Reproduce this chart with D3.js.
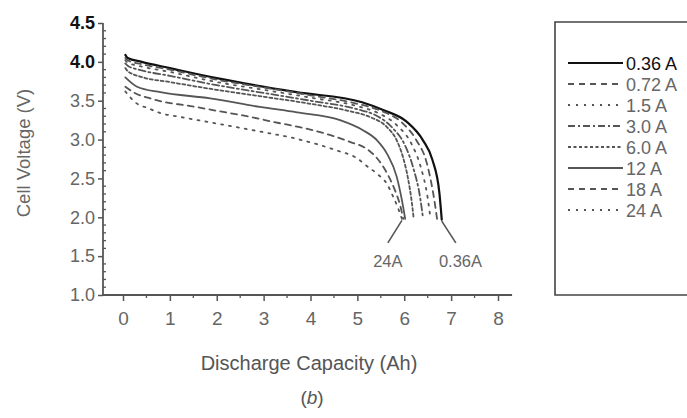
<!DOCTYPE html>
<html>
<head>
<meta charset="utf-8">
<script src="https://cdn.jsdelivr.net/npm/d3@7"></script>
<style>
  body { margin: 0; background: #fff; }
  svg { display: block; font-family: "Liberation Sans", Arial, sans-serif; }
</style>
</head>
<body>
<div id="chart"></div>
<script>
// discharge curves: capacity (Ah) / cell voltage (V)
const cap036 = [0.05, 0.1, 0.4, 1.0, 2.0, 3.7, 5.1, 5.55, 6.05, 6.4, 6.6, 6.75, 6.8];
const v036   = [4.09, 4.05, 4.0, 3.92, 3.79, 3.61, 3.48, 3.38, 3.23, 2.99, 2.74, 2.31, 1.97];

const cap072 = [0.05, 0.1, 0.4, 1.0, 2.0, 3.0, 4.0, 5.0, 5.5, 5.95, 6.25, 6.48, 6.62, 6.7];
const v072   = [4.05, 4.02, 3.97, 3.9, 3.77, 3.67, 3.57, 3.46, 3.37, 3.22, 3.0, 2.7, 2.3, 1.98];

const cap15 = [0.05, 0.1, 0.4, 1.0, 2.0, 3.0, 4.0, 5.0, 5.45, 5.85, 6.15, 6.35, 6.5, 6.56];
const v15   = [4.02, 3.99, 3.94, 3.87, 3.74, 3.64, 3.54, 3.43, 3.34, 3.18, 2.95, 2.65, 2.25, 1.98];

const cap30 = [0.05, 0.1, 0.4, 1.0, 2.0, 3.0, 4.0, 5.0, 5.4, 5.75, 6.02, 6.2, 6.34, 6.4];
const v30   = [3.98, 3.95, 3.89, 3.82, 3.7, 3.6, 3.5, 3.39, 3.31, 3.15, 2.92, 2.62, 2.25, 1.99];

const cap60 = [0.05, 0.1, 0.43, 1.0, 2.0, 2.9, 4.0, 4.8, 5.27, 5.63, 5.84, 5.97, 6.08, 6.17, 6.2];
const v60   = [3.92, 3.88, 3.8, 3.74, 3.64, 3.56, 3.46, 3.37, 3.29, 3.16, 2.99, 2.78, 2.5, 2.15, 1.99];

const cap12 = [0.05, 0.3, 0.8, 1.86, 2.92, 3.71, 4.63, 5.12, 5.42, 5.63, 5.84, 5.95, 6.02];
const v12   = [3.8, 3.68, 3.61, 3.53, 3.42, 3.35, 3.25, 3.12, 2.99, 2.82, 2.52, 2.22, 1.98];

const cap18 = [0.05, 0.25, 0.58, 0.9, 1.36, 2.0, 2.56, 3.35, 3.77, 4.41, 4.84, 5.2, 5.42, 5.63, 5.8, 5.9, 5.98];
const v18   = [3.68, 3.6, 3.53, 3.48, 3.44, 3.37, 3.31, 3.21, 3.16, 3.06, 2.97, 2.88, 2.76, 2.57, 2.35, 2.18, 1.98];

const cap24 = [0.05, 0.26, 0.55, 0.8, 1.14, 1.78, 2.42, 3.13, 3.56, 4.14, 4.56, 4.99, 5.2, 5.42, 5.63, 5.76, 5.86, 5.95];
const v24   = [3.62, 3.48, 3.4, 3.34, 3.3, 3.23, 3.16, 3.08, 3.03, 2.94, 2.86, 2.76, 2.66, 2.56, 2.43, 2.27, 2.13, 1.98];

const seriesNames = ["0.36 A", "0.72 A", "1.5 A", "3.0 A", "6.0 A", "12 A", "18 A", "24 A"];
const seriesCaps = [cap036, cap072, cap15, cap30, cap60, cap12, cap18, cap24];
const seriesVolts = [v036, v072, v15, v30, v60, v12, v18, v24];

const xTicks = [0, 1, 2, 3, 4, 5, 6, 7, 8];
const yTicks = [1.0, 1.5, 2.0, 2.5, 3.0, 3.5, 4.0, 4.5];

// line styling per series (scan has 0.36 A in black, rest gray)
const styles = [
    { color: "#111", width: 2.2, dash: null },
    { color: "#555", width: 1.8, dash: "6,5" },
    { color: "#555", width: 1.8, dash: "2,6" },
    { color: "#555", width: 1.8, dash: "7,3,2,3" },
    { color: "#555", width: 1.8, dash: "3,2.5" },
    { color: "#555", width: 1.8, dash: null },
    { color: "#555", width: 1.8, dash: "6,5" },
    { color: "#555", width: 1.8, dash: "2,6" }
];

const W = 687, H = 418;

const svg = d3.select("#chart").append("svg")
    .attr("width", W)
    .attr("height", H);

const x = d3.scaleLinear().domain([0, 8]).range([123, 498]);
const y = d3.scaleLinear().domain([1.0, 4.5]).range([295, 23]);

const axisColor = "#555";

// y axis
const yAxis = svg.append("g")
    .attr("transform", `translate(${x(-0.427)},0)`)
    .call(d3.axisLeft(y).tickValues(yTicks).tickFormat(d3.format(".1f")).tickSize(5).tickPadding(3));
yAxis.select(".domain").attr("d", `M0,${y(4.5)}V${y(1.0)}`).attr("stroke", axisColor).attr("stroke-width", 1.8);
yAxis.selectAll(".tick line").attr("stroke", axisColor).attr("stroke-width", 1.5);
yAxis.selectAll(".tick text")
    .attr("font-size", 18)
    .attr("font-family", "Liberation Sans, Arial, sans-serif")
    .attr("fill", d => d >= 4.0 ? "#111" : "#666")
    .attr("font-weight", d => d >= 4.0 ? "bold" : "normal");

const yMinor = d3.range(10, 46).map(d => d / 10).filter(d => Math.abs(d * 2 - Math.round(d * 2)) > 1e-6);
yAxis.selectAll(".minor")
    .data(yMinor)
    .join("line")
    .attr("class", "minor")
    .attr("x1", 0).attr("x2", 3)
    .attr("y1", d => y(d)).attr("y2", d => y(d))
    .attr("stroke", axisColor).attr("stroke-width", 1.3);

// x axis
const xAxis = svg.append("g")
    .attr("transform", `translate(0,${y(1.0)})`)
    .call(d3.axisBottom(x).tickValues(xTicks).tickFormat(d3.format("d")).tickSize(6).tickPadding(11));
xAxis.select(".domain").attr("d", `M${x(-0.427)},0H${x(8.3)}`).attr("stroke", axisColor).attr("stroke-width", 1.8);
xAxis.selectAll(".tick line").attr("stroke", axisColor).attr("stroke-width", 1.5);
xAxis.selectAll(".tick text")
    .attr("font-size", 19)
    .attr("font-family", "Liberation Sans, Arial, sans-serif")
    .attr("fill", "#666");

xAxis.selectAll(".minor")
    .data(d3.range(0, 8).map(d => d + 0.5))
    .join("line")
    .attr("class", "minor")
    .attr("x1", d => x(d)).attr("x2", d => x(d))
    .attr("y1", 0).attr("y2", 3)
    .attr("stroke", axisColor).attr("stroke-width", 1.3);

// axis titles
svg.append("text")
    .attr("transform", `translate(30,${153}) rotate(-90)`)
    .attr("text-anchor", "middle")
    .attr("font-size", 18.5)
    .attr("fill", "#666")
    .text("Cell Voltage (V)");

svg.append("text")
    .attr("x", 309).attr("y", 370)
    .attr("text-anchor", "middle")
    .attr("font-size", 20)
    .attr("fill", "#555")
    .text("Discharge Capacity (Ah)");

svg.append("text")
    .attr("x", 312).attr("y", 404)
    .attr("text-anchor", "middle")
    .attr("font-size", 19)
    .attr("fill", "#555")
    .html("(<tspan font-style=\"italic\">b</tspan>)");

// curves
const line = d3.line()
    .x(d => x(d[0]))
    .y(d => y(d[1]))
    .curve(d3.curveMonotoneX);

const curves = svg.append("g");
seriesNames.forEach((name, i) => {
    const pts = seriesCaps[i].map((c, j) => [c, seriesVolts[i][j]]);
    curves.append("path")
        .datum(pts)
        .attr("d", line)
        .attr("fill", "none")
        .attr("stroke", styles[i].color)
        .attr("stroke-width", styles[i].width)
        .attr("stroke-dasharray", styles[i].dash)
        .attr("stroke-linecap", "round");
});

// end-of-curve call-outs
const calloutColor = "#555";
svg.append("line")
    .attr("x1", x(5.95)).attr("y1", y(1.96))
    .attr("x2", x(5.65)).attr("y2", y(1.67))
    .attr("stroke", calloutColor).attr("stroke-width", 1.6);
svg.append("text")
    .attr("x", x(5.65)).attr("y", 267)
    .attr("text-anchor", "middle")
    .attr("font-size", 16.5)
    .attr("fill", "#666")
    .text("24A");

svg.append("line")
    .attr("x1", x(6.8)).attr("y1", y(1.95))
    .attr("x2", x(7.1)).attr("y2", y(1.67))
    .attr("stroke", calloutColor).attr("stroke-width", 1.6);
svg.append("text")
    .attr("x", x(7.2)).attr("y", 267)
    .attr("text-anchor", "middle")
    .attr("font-size", 16.5)
    .attr("fill", "#666")
    .text("0.36A");

// legend
const legend = svg.append("g");
legend.append("path")
    .attr("d", `M${W + 5},22H555V295H${W + 5}`)
    .attr("fill", "none")
    .attr("stroke", "#444")
    .attr("stroke-width", 1.6);

const legRow = d3.scalePoint().domain(seriesNames).range([63, 210]);
seriesNames.forEach((name, i) => {
    const ly = legRow(name);
    legend.append("line")
        .attr("x1", 568).attr("x2", 623)
        .attr("y1", ly).attr("y2", ly)
        .attr("stroke", styles[i].color)
        .attr("stroke-width", styles[i].width)
        .attr("stroke-dasharray", styles[i].dash);
    legend.append("text")
        .attr("x", 626).attr("y", ly + 6.5)
        .attr("font-size", 18)
        .attr("fill", i === 0 ? "#111" : "#666")
        .text(name);
});
</script>
</body>
</html>
